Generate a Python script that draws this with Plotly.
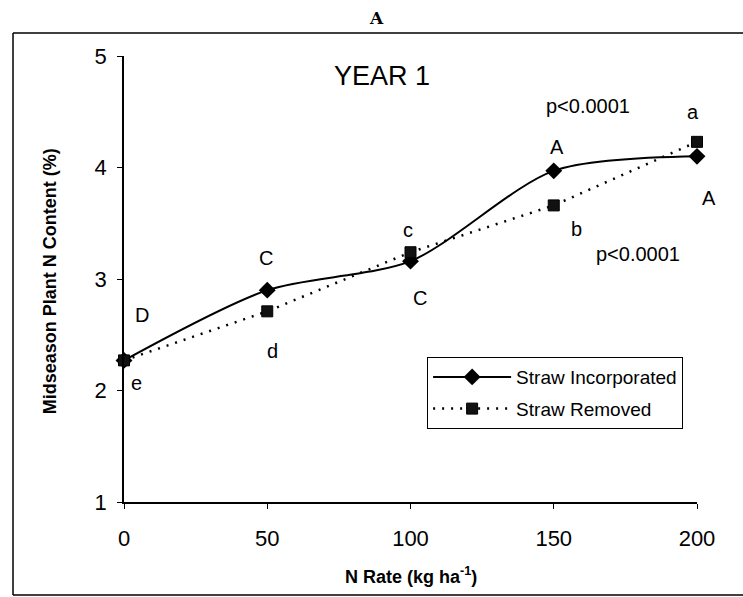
import plotly.graph_objects as go

# N rate treatments (kg N/ha)
n_rate = [0, 50, 100, 150, 200]
# Midseason plant N content (%)
straw_incorporated = [2.27, 2.90, 3.16, 3.97, 4.10]
straw_removed = [2.27, 2.71, 3.24, 3.66, 4.23]

# Mean-separation letters: text, x (kg/ha), y (%), extra pixel shift in x
letter_text = ["D", "e", "C", "d", "c", "C", "A", "b", "a", "A"]
letter_x = [6.3, 4.5, 49.6, 51.7, 99.1, 103.3, 151.1, 158.1, 198.6, 200]
letter_y = [2.68, 2.07, 3.19, 2.35, 3.44, 2.83, 4.18, 3.45, 4.50, 3.73]
letter_dx = [0, 0, 0, 0, 0, 0, 0, 0, 0, 12]

FONT = "Liberation Sans, Arial, sans-serif"

fig = go.Figure()
fig.add_trace(go.Scatter(
    x=n_rate, y=straw_incorporated, name="Straw Incorporated", legendgroup="inc",
    mode="lines+markers", cliponaxis=False,
    line=dict(color="black", width=2, shape="spline", smoothing=0.8),
    marker=dict(symbol="diamond", size=13, color="black"),
))
fig.add_trace(go.Scatter(
    x=n_rate, y=straw_removed, name="Straw Removed", legendgroup="rem",
    mode="lines+markers", cliponaxis=False,
    line=dict(color="black", width=2.5, dash="2px,7px"),
    marker=dict(symbol="square", size=11, color="#111111",
                line=dict(color="black", width=1)),
))

annotations = []
for t, x, y, dx in zip(letter_text, letter_x, letter_y, letter_dx):
    annotations.append(dict(x=x, y=y, xref="x", yref="y", xshift=dx, text=t,
                            showarrow=False, xanchor="center", yanchor="middle",
                            font=dict(family=FONT, size=20, color="black")))
annotations += [
    dict(x=90.1, y=4.82, xref="x", yref="y", text="YEAR 1", showarrow=False,
         xanchor="center", yanchor="middle",
         font=dict(family=FONT, size=27, color="black")),
    dict(x=162.0, y=4.55, xref="x", yref="y", text="p<0.0001", showarrow=False,
         xanchor="center", yanchor="middle",
         font=dict(family=FONT, size=20, color="black")),
    dict(x=179.4, y=3.22, xref="x", yref="y", text="p<0.0001", showarrow=False,
         xanchor="center", yanchor="middle",
         font=dict(family=FONT, size=20, color="black")),
    dict(x=0.44, y=1.085, xref="paper", yref="paper", text="<b>A</b>", showarrow=False,
         xanchor="center", yanchor="middle",
         font=dict(family="DejaVu Serif, serif", size=17, color="black")),
    dict(x=0.5, y=-0.164, xref="paper", yref="paper",
         text="<b>N Rate (kg ha<sup>-1</sup>)</b>", showarrow=False,
         xanchor="center", yanchor="middle",
         font=dict(family=FONT, size=18, color="black")),
    dict(x=-0.1291, y=0.495, xref="paper", yref="paper", textangle=-90,
         text="<b>Midseason Plant N Content (%)</b>", showarrow=False,
         xanchor="center", yanchor="middle",
         font=dict(family=FONT, size=18, color="black")),
]

# Outer frame: left, top and bottom edges (the right edge runs off the page)
frame_left, frame_right, frame_top, frame_bottom = -0.1937, 1.3, 1.0516, -0.2085
frame_line = dict(color="black", width=1.5)
shapes = [
    dict(type="line", xref="paper", yref="paper", x0=frame_left, x1=frame_left,
         y0=frame_bottom, y1=frame_top, line=frame_line),
    dict(type="line", xref="paper", yref="paper", x0=frame_left, x1=frame_right,
         y0=frame_top, y1=frame_top, line=frame_line),
    dict(type="line", xref="paper", yref="paper", x0=frame_left, x1=frame_right,
         y0=frame_bottom, y1=frame_bottom, line=frame_line),
]

fig.update_layout(
    width=743, height=597,
    margin=dict(l=124, r=46, t=56, b=95),
    paper_bgcolor="white", plot_bgcolor="white",
    font=dict(family=FONT, size=19, color="black"),
    showlegend=True,
    legend=dict(x=0.529, y=0.325, xanchor="left", yanchor="top",
                bordercolor="black", borderwidth=1, bgcolor="white",
                itemwidth=78, font=dict(family=FONT, size=19, color="black"),
                tracegroupgap=4),
    annotations=annotations,
    shapes=shapes,
)
fig.update_xaxes(range=[0, 200], tickvals=[0, 50, 100, 150, 200],
                 showgrid=False, zeroline=False, showline=True, linecolor="black",
                 linewidth=1.5, ticks="outside", ticklen=5, tickcolor="black",
                 ticklabelstandoff=11, tickfont=dict(size=22))
fig.update_yaxes(range=[1, 5], tickvals=[1, 2, 3, 4, 5],
                 showgrid=False, zeroline=False, showline=True, linecolor="black",
                 linewidth=1.5, ticks="outside", ticklen=5, tickcolor="black",
                 ticklabelstandoff=6, tickfont=dict(size=22))

fig.write_html("out.html")
